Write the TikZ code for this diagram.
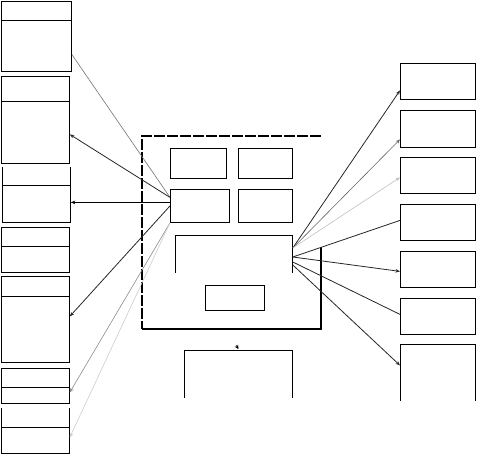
\documentclass[tikz,border=0pt]{standalone}
\usepackage{tikz}
\usetikzlibrary{arrows.meta}

\begin{document}
\begin{tikzpicture}[x=1pt, y=-1pt, line width=0.8pt,
  box/.style={draw, inner sep=0pt, anchor=north west},
  openbox/.style={inner sep=0pt, anchor=north west},
  arr/.style={-{Stealth[length=4.5pt,width=3.5pt]}},
  frameline/.style={line width=2pt, dash pattern=on 11pt off 2pt}]
\useasboundingbox (0,0) rectangle (477,455);

\node[box, minimum width=70pt, minimum height=70pt] (l1) at (1,1) {};
\node[box, minimum width=68pt, minimum height=87pt] (l2) at (1,76) {};
\node[openbox, minimum width=68pt, minimum height=55pt] (l3) at (2,167) {};
\node[box, minimum width=68pt, minimum height=45pt] (l4) at (1,227) {};
\node[box, minimum width=68pt, minimum height=86pt] (l5) at (1,276) {};
\node[box, minimum width=68pt, minimum height=35pt] (l6) at (1,368) {};
\node[openbox, minimum width=68pt, minimum height=45pt] (l7) at (1,408) {};

\draw (l3.north west) -- (l3.south west) -- (l3.south east) -- (l3.north east);
\draw (l7.north west) -- (l7.south west) -- (l7.south east) -- (l7.north east);

\draw ([yshift=-19pt]l1.north west) -- ([yshift=-19pt]l1.north east);
\draw ([yshift=-25pt]l2.north west) -- ([yshift=-25pt]l2.north east);
\draw ([yshift=-18pt]l3.north west) -- ([yshift=-18pt]l3.north east);
\draw ([yshift=-19pt]l4.north west) -- ([yshift=-19pt]l4.north east);
\draw ([yshift=-20pt]l5.north west) -- ([yshift=-20pt]l5.north east);
\draw ([yshift=-19pt]l6.north west) -- ([yshift=-19pt]l6.north east);
\draw ([yshift=-19pt]l7.north west) -- ([yshift=-19pt]l7.north east);

\coordinate (fr1) at (142,136);
\coordinate (fr2) at (321,136);
\coordinate (fr3) at (321,247);
\coordinate (fr4) at (321,329);
\coordinate (fr5) at (142,329);
\draw[frameline] (fr2) -- (fr1) -- (fr5);
\draw[line width=2pt] (fr5) -- (fr4) -- (fr3);

\node[box, minimum width=56pt, minimum height=30pt] (a) at (170,148) {};
\node[box, minimum width=54pt, minimum height=30pt] (b) at (238,148) {};
\node[box, minimum width=59pt, minimum height=33pt] (c) at (170,189) {};
\node[box, minimum width=54pt, minimum height=33pt] (d) at (238,189) {};
\node[openbox, minimum width=117pt, minimum height=37pt] (e) at (175,235) {};
\node[box, minimum width=59pt, minimum height=25pt] (f) at (205,285) {};
\node[openbox, minimum width=108pt, minimum height=47pt] (g) at (184,350) {};

\draw (e.south west) -- (e.north west) -- (e.north east) -- (e.south east);
\draw (g.south west) -- (g.north west) -- (g.north east) -- (g.south east);

\node[box, minimum width=75pt, minimum height=36pt] (r1) at (400,63) {};
\node[box, minimum width=75pt, minimum height=37pt] (r2) at (400,110) {};
\node[box, minimum width=75pt, minimum height=36pt] (r3) at (400,157) {};
\node[box, minimum width=75pt, minimum height=36pt] (r4) at (400,204) {};
\node[box, minimum width=75pt, minimum height=36pt] (r5) at (400,251) {};
\node[box, minimum width=75pt, minimum height=36pt] (r6) at (400,298) {};
\node[openbox, minimum width=75pt, minimum height=56pt] (r7) at (400,344) {};

\draw (r7.south west) -- (r7.north west) -- (r7.north east) -- (r7.south east);

\draw[black!55, line width=0.6pt] ([yshift=8.5pt]c.west) -- ([yshift=-18pt]l1.east);
\draw[arr, black!85] ([yshift=8.5pt]c.west) -- ([yshift=-14.5pt]l2.east);
\draw[arr] ([yshift=3.5pt]c.west) -- ([yshift=-7.5pt]l3.east);
\draw[arr, black!85] (c.west) -- ([yshift=3pt]l5.east);
\draw[arr, black!45, line width=0.6pt] (c.south west) -- ([yshift=-6.5pt]l6.east);
\draw[arr, black!20, line width=0.6pt] (c.south west) -- ([yshift=-6.5pt]l7.east);

\draw[arr, black!85] ([yshift=-13pt]e.north east) -- ([yshift=-9pt]r1.west);
\draw[arr, black!60, line width=0.6pt] ([yshift=-13pt]e.north east) -- ([yshift=-10.5pt]r2.west);
\draw[arr, black!25, line width=0.6pt] ([yshift=-13pt]e.north east) -- ([yshift=-2pt]r3.west);
\draw[black!85] ([yshift=-22pt]e.north east) -- ([yshift=2pt]r4.west);
\draw[arr, black!85] ([yshift=-22pt]e.north east) -- ([yshift=-2pt]r5.west);
\draw[black!85] ([yshift=-27pt]e.north east) -- ([yshift=2pt]r6.west);
\draw[arr, black!85] ([yshift=-30pt]e.north east) -- ([yshift=7pt]r7.west);

\coordinate (gtop) at (236,345);
\draw[-{Stealth[length=4pt,width=4pt]}, line width=0.4pt] (gtop) -- ([yshift=1pt]g.north);
\end{tikzpicture}
\end{document}
